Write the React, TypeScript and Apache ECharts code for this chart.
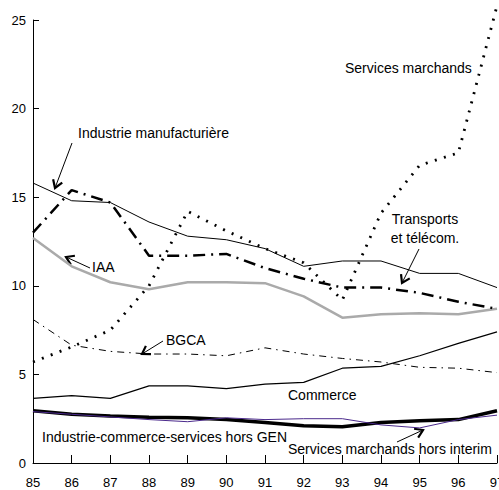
import React, { useEffect, useRef } from "react";
import * as echarts from "echarts";

const years = [85, 86, 87, 88, 89, 90, 91, 92, 93, 94, 95, 96, 97];
const xTicks = years;
const yTicks = [0, 5, 10, 15, 20, 25];

const industrieManuf = [15.8, 14.8, 14.7, 13.6, 12.8, 12.6, 12.1, 11.1, 11.4, 11.4, 10.7, 10.7, 9.9];
const transports = [13.0, 15.4, 14.7, 11.7, 11.7, 11.8, 11.0, 10.4, 9.9, 9.9, 9.6, 9.1, 8.7];
const iaa = [12.7, 11.1, 10.2, 9.8, 10.2, 10.2, 10.15, 9.4, 8.2, 8.4, 8.45, 8.4, 8.7];
const servicesMarchands = [5.7, 6.55, 7.5, 10.0, 14.2, 13.1, 12.1, 11.3, 9.2, 14.1, 16.8, 17.5, 25.8];
const bgca = [8.1, 6.65, 6.3, 6.15, 6.15, 6.05, 6.5, 6.15, 5.9, 5.7, 5.4, 5.35, 5.1];
const commerce = [3.65, 3.8, 3.65, 4.35, 4.35, 4.2, 4.45, 4.55, 5.35, 5.45, 6.05, 6.75, 7.4];
const horsGen = [2.95, 2.75, 2.65, 2.58, 2.55, 2.45, 2.28, 2.1, 2.05, 2.28, 2.38, 2.45, 2.95];
const horsInterim = [2.9, 2.75, 2.6, 2.45, 2.33, 2.55, 2.45, 2.5, 2.5, 2.15, 1.98, 2.45, 2.7];

const FONT = '"Liberation Sans", Arial, Helvetica, sans-serif';

function pairs(vals: number[]) {
  return years.map((y, i) => [y, vals[i]]);
}

function arrow(x1: number, y1: number, x2: number, y2: number) {
  const ang = Math.atan2(y1 - y2, x1 - x2);
  const len = 9;
  const spread = Math.PI / 5.5;
  const a = [x2 + len * Math.cos(ang + spread), y2 + len * Math.sin(ang + spread)];
  const b = [x2 + len * Math.cos(ang - spread), y2 + len * Math.sin(ang - spread)];
  return [
    { type: "line", shape: { x1, y1, x2, y2 }, style: { stroke: "#000", lineWidth: 1 } },
    {
      type: "polyline",
      shape: { points: [a, [x2, y2], b] },
      style: { stroke: "#000", lineWidth: 2.2, fill: null },
    },
  ];
}

function label(text: string, x: number, y: number, align = "left") {
  return {
    type: "text",
    x,
    y,
    style: {
      text,
      fontFamily: FONT,
      fontSize: 14,
      fill: "#000",
      textAlign: align,
      textVerticalAlign: "middle",
      lineHeight: 19,
    },
  };
}

export default function App() {
  const ref = useRef<HTMLDivElement>(null);
  useEffect(() => {
    if (!ref.current) return;
    const chart = echarts.init(ref.current, undefined, { renderer: "svg", width: 499, height: 490 });
    const lineSeries = (name: string, vals: number[], lineStyle: any) => ({
      name,
      type: "line",
      data: pairs(vals),
      showSymbol: false,
      symbol: "none",
      clip: false,
      lineStyle,
    });
    chart.setOption({
      animation: false,
      backgroundColor: "#fff",
      textStyle: { fontFamily: FONT },
      grid: {
        left: 33,
        right: 2,
        top: 20,
        bottom: 27,
        containLabel: false,
        outerBoundsMode: "none",
      },
      xAxis: {
        type: "value",
        min: 85,
        max: 97,
        interval: 1,
        axisLine: { lineStyle: { color: "#000", width: 1 } },
        axisTick: { inside: true, length: 8, lineStyle: { color: "#000" } },
        splitLine: { show: false },
        axisLabel: {
          color: "#000",
          fontSize: 13,
          margin: 13,
          fontFamily: FONT,
          formatter: (v: number) => (xTicks.includes(v) ? String(v) : ""),
        },
      },
      yAxis: {
        type: "value",
        min: 0,
        max: 25,
        interval: 5,
        axisLine: { show: true, lineStyle: { color: "#000", width: 1 } },
        axisTick: { show: true, inside: true, length: 6, lineStyle: { color: "#000" } },
        splitLine: { show: false },
        axisLabel: {
          color: "#000",
          fontSize: 13,
          margin: 7,
          fontFamily: FONT,
          formatter: (v: number) => (yTicks.includes(v) ? String(v) : ""),
        },
      },
      series: [
        lineSeries("Industrie manufacturière", industrieManuf, { color: "#000", width: 1 }),
        lineSeries("IAA", iaa, { color: "#aaaaaa", width: 2.5 }),
        lineSeries("Transports et télécom.", transports, {
          color: "#000",
          width: 2.5,
          type: [12, 6, 2, 6],
        }),
        lineSeries("BGCA", bgca, { color: "#000", width: 1, type: [7, 5, 1.5, 5] }),
        lineSeries("Services marchands", servicesMarchands, {
          color: "#000",
          width: 2.8,
          type: [2, 7.5],
        }),
        lineSeries("Commerce", commerce, { color: "#000", width: 1.2 }),
        lineSeries("Industrie-commerce-services hors GEN", horsGen, { color: "#000", width: 3.5 }),
        lineSeries("Services marchands hors interim", horsInterim, { color: "#4b2a8c", width: 1 }),
      ],
      graphic: [
        label("Industrie manufacturière", 78, 133),
        ...arrow(72, 143, 55, 188),
        label("IAA", 92, 267),
        ...arrow(90, 268, 66, 257),
        label("BGCA", 166, 340),
        ...arrow(163, 341, 142, 354),
        label("Services marchands", 345, 68),
        label("Transports\net télécom.", 425, 228, "center"),
        ...arrow(419, 249, 402, 283),
        label("Commerce", 288, 395),
        label("Industrie-commerce-services hors GEN", 42, 437),
        label("Services marchands hors interim", 288, 449),
        ...arrow(397, 442, 423, 430),
      ],
    });
    return () => chart.dispose();
  }, []);
  return (
    <div
      ref={ref}
      style={{ position: "absolute", left: 0, top: 0, width: 499, height: 490 }}
    />
  );
}
